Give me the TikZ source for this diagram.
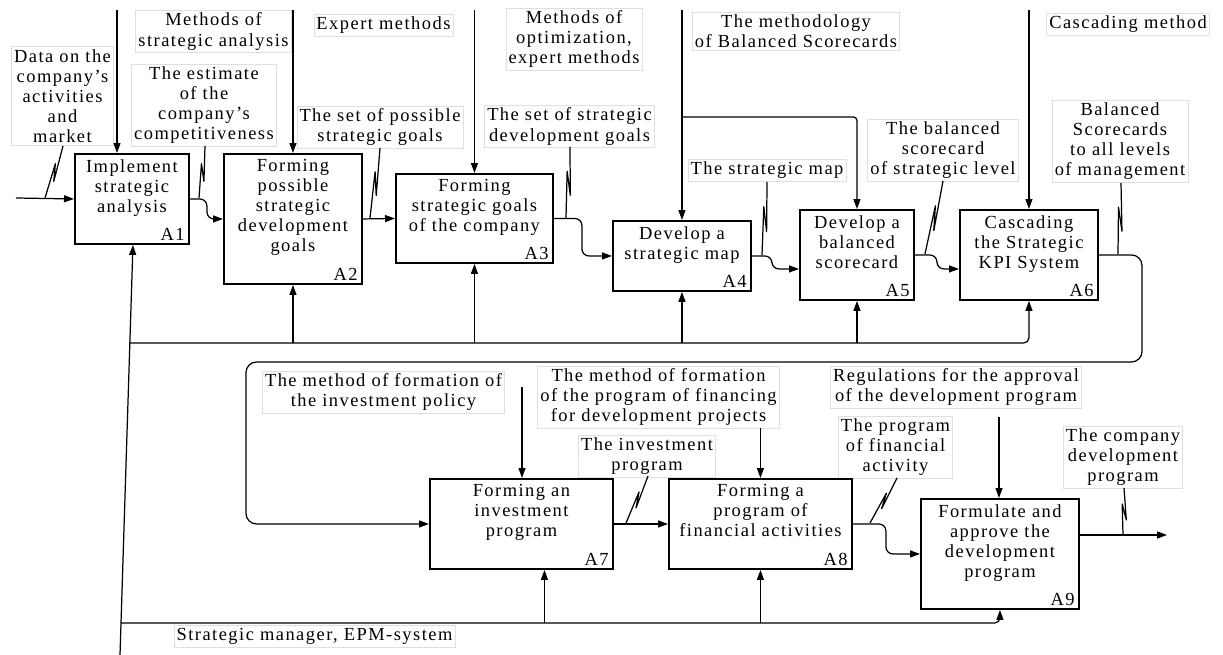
\documentclass[tikz,border=0pt]{standalone}
\usepackage{fontspec}
\setmainfont{Liberation Serif}[LetterSpace=8]
\usetikzlibrary{arrows.meta,positioning,calc}
\colorlet{LabGray}{gray!25}

% tilde line from an arrow to its label
\newcommand\squig[2]{%
  \draw[tildeline] (#1) -- ($(#1)!.66!(#2)+(-1.5,0)$)
    -- ($(#1)!.32!(#2)+(3,0)$) -- (#2);}

\begin{document}
\begin{tikzpicture}[x=0.02cm,y=-0.02cm,
    every node/.style={font=\fontsize{10.5}{11.4}\selectfont},
    fn/.style={draw, line width=1.1pt, inner sep=0, anchor=north west},
    fntext/.style={align=center, inner sep=0},
    fnnum/.style={inner sep=0},
    lab/.style={draw=LabGray, line width=0.4pt, fill=white, align=center, inner sep=1.5pt},
    arr/.style={line width=0.7pt, -{Triangle[length=2mm,width=1.4mm]}},
    tildeline/.style={line width=0.7pt, line join=round}]
                \useasboundingbox (0,0) rectangle (1223,655);

                % labels
                \node[lab] (l1) at (62.5,96) {Data on the\\company's\\activities\\and\\market};
                \node[lab] (l2) at (213.5,31.5) {Methods of\\strategic analysis};
                \node[lab] (l3) at (204,105) {The estimate\\of the\\company's\\competitiveness};
                \node[lab] (l4) at (383.5,25) {Expert methods};
                \node[lab] (l5) at (380,127) {The set of possible\\strategic goals};
                \node[lab] (l6) at (574,39) {Methods of\\optimization,\\expert methods};
                \node[lab] (l7) at (569.5,126.5) {The set of strategic\\development goals};
                \node[lab] (l8) at (796,31) {The methodology\\of Balanced Scorecards};
                \node[lab] (l9) at (767,170.5) {The strategic map};
                \node[lab] (l10) at (943,150) {The balanced\\scorecard\\of strategic level};
                \node[lab] (l11) at (1128,24.5) {Cascading method};
                \node[lab] (l12) at (1120,141) {Balanced\\Scorecards\\to all levels\\of management};
                \node[lab] (l13) at (383.5,392) {The method of formation of\\the investment policy};
                \node[lab] (l14) at (658.5,397) {The method of formation\\of the program of financing\\for development projects};
                \node[lab] (l15) at (647,456) {The investment\\program};
                \node[lab] (l16) at (956,387) {Regulations for the approval\\of the development program};
                \node[lab] (l17) at (895.5,447.5) {The program\\of financial\\activity};
                \node[lab] (l18) at (1123,457) {The company\\development\\program};
                \node[lab] (l19) at (314.5,636.5) {Strategic manager, EPM-system};

                % functions
                \node[fn, minimum width=2.28cm, minimum height=1.8cm] (a1) at (74,153) {};
                \node[fntext, below=0.12cm of a1.north] (a1t) {Implement\\strategic\\analysis};
                \node[fnnum, above left=0.08cm and 0.1cm of a1.south east] (a1n) {A1};
                \node[fn, minimum width=2.76cm, minimum height=2.6cm] (a2) at (223,153) {};
                \node[fntext, below=0.12cm of a2.north] (a2t) {Forming\\possible\\strategic\\development\\goals};
                \node[fnnum, above left=0.08cm and 0.1cm of a2.south east] (a2n) {A2};
                \node[fn, minimum width=3.14cm, minimum height=1.78cm] (a3) at (395,173) {};
                \node[fntext, below=0.12cm of a3.north] (a3t) {Forming\\strategic goals\\of the company};
                \node[fnnum, above left=0.08cm and 0.1cm of a3.south east] (a3n) {A3};
                \node[fn, minimum width=2.76cm, minimum height=1.4cm] (a4) at (612,220) {};
                \node[fntext, below=0.12cm of a4.north] (a4t) {Develop a\\strategic map};
                \node[fnnum, above left=0.08cm and 0.1cm of a4.south east] (a4n) {A4};
                \node[fn, minimum width=2.28cm, minimum height=1.8cm] (a5) at (799,209) {};
                \node[fntext, below=0.12cm of a5.north] (a5t) {Develop a\\balanced\\scorecard};
                \node[fnnum, above left=0.08cm and 0.1cm of a5.south east] (a5n) {A5};
                \node[fn, minimum width=2.76cm, minimum height=1.8cm] (a6) at (959,209) {};
                \node[fntext, below=0.12cm of a6.north] (a6t) {Cascading\\the Strategic\\KPI System};
                \node[fnnum, above left=0.08cm and 0.1cm of a6.south east] (a6n) {A6};
                \node[fn, minimum width=3.66cm, minimum height=1.8cm] (a7) at (429,478) {};
                \node[fntext, below=0.12cm of a7.north] (a7t) {Forming an\\investment\\program};
                \node[fnnum, above left=0.08cm and 0.1cm of a7.south east] (a7n) {A7};
                \node[fn, minimum width=3.66cm, minimum height=1.8cm] (a8) at (668,478) {};
                \node[fntext, below=0.12cm of a8.north] (a8t) {Forming a\\program of\\financial activities};
                \node[fnnum, above left=0.08cm and 0.1cm of a8.south east] (a8n) {A8};
                \node[fn, minimum width=3.16cm, minimum height=2.2cm] (a9) at (920,498) {};
                \node[fntext, below=0.12cm of a9.north] (a9t) {Formulate and\\approve the\\development\\program};
                \node[fnnum, above left=0.08cm and 0.1cm of a9.south east] (a9n) {A9};

                % controls
                \coordinate (c1) at (117,10);
                \draw[arr] (c1) -- (c1 |- a1.north);
                \draw[arr] (a2.north |- c1) -- (a2.north);
                \draw[arr] (a3.north |- c1) -- (a3.north);
                \draw[arr] (a4.north |- c1) -- (a4.north);
                \coordinate (br) at (681,117);
                \draw[arr, rounded corners=2] (br) -| (a5.north);
                \draw[arr] (a6.north |- c1) -- (a6.north);
                \coordinate (c7) at (522,387);
                \draw[arr] (c7) -- (c7 |- a7.north);
                \draw[arr] (l14.south -| a8.north) -- (a8.north);
                \coordinate (c9) at (999,417);
                \draw[arr] (c9) -- (c9 |- a9.north);

                % inputs and outputs
                \coordinate (in1) at (16,198);
                \draw[arr] (in1) -- (a1.west);
                \draw[arr, rounded corners=4] (a1.east) -- ++(17,0) |- (a2.west);
                \draw[arr] (a2.east) -- (a3.west);
                \draw[arr, rounded corners=4] (a3.east) -- ++(28,0) |- (a4.west);
                \draw[arr, rounded corners=4] (a4.east) -- ++(20,0) |- ($(a5.west)+(0,14)$);
                \draw[arr, rounded corners=4] (a5.east) -- ++(22,0) |- ($(a6.west)+(0,14)$);
                \coordinate (fbr) at (1142,362);
                \coordinate (fbl) at (246,362);
                \draw[arr, rounded corners=6] (a6.east) -| (fbr) -- (fbl) |- (a7.west);
                \draw[arr] (a7.east) -- (a8.west);
                \draw[arr, rounded corners=4] (a8.east) -- ++(33,0) |- (a9.west);
                \coordinate (out9) at (1167,535);
                \draw[arr] (out9 -| a9.east) -- (out9);

                % mechanisms
                \coordinate (m0) at (120,655);
                \draw[arr] (m0) -- ($(a1.south)+(1,0)$);
                \coordinate (mt) at (129,343);
                \draw[arr, rounded corners=3] (mt) -| (a6.south);
                \foreach \b in {a2,a3,a4,a5} {
                    \draw[arr] (mt -| \b.south) -- (\b.south);
                }
                \coordinate (mb) at (121,623);
                \draw[arr, rounded corners=3] (mb) -| (a9.south);
                \coordinate (m7) at ($(a7.south)+(23,0)$);
                \draw[arr] (mb -| m7) -- (m7);
                \draw[arr] (mb -| a8.south) -- (a8.south);

                % tildes
                \coordinate (s1) at (45,198);   \coordinate (t1) at (63,146);
                \coordinate (s2) at (199,198);  \coordinate (t2) at (205,146);
                \coordinate (s3) at (370,218);  \coordinate (t3) at (380,148);
                \coordinate (s4) at (566,218);  \coordinate (t4) at (570,147);
                \coordinate (s5) at (762,255);  \coordinate (t5) at (767,182);
                \coordinate (s6) at (925,254);  \coordinate (t6) at (943,181);
                \coordinate (s7) at (1118,254); \coordinate (t7) at (1121,183);
                \coordinate (s8) at (626,523);  \coordinate (t8) at (648,476);
                \coordinate (s9) at (870,523);  \coordinate (t9) at (897,478);
                \coordinate (s10) at (1123,535); \coordinate (t10) at (1124,488);
                \foreach \i in {1,...,10} {
                    \squig{s\i}{t\i}
                }
            \end{tikzpicture}
\end{document}
